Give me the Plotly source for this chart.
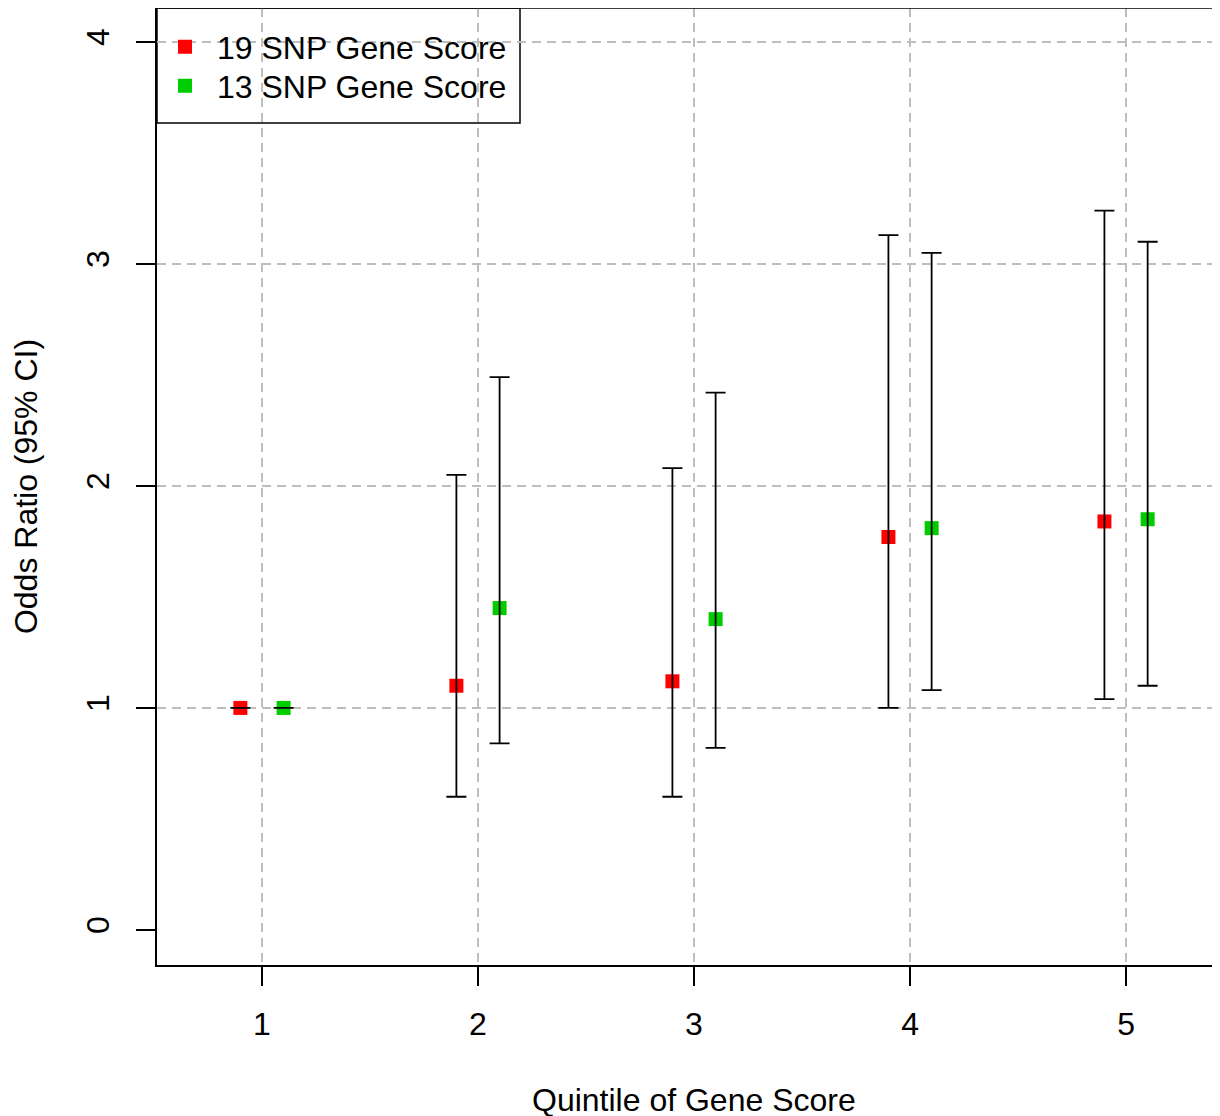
import plotly.graph_objects as go

quintiles = [1, 2, 3, 4, 5]
offset = 0.1

or19 = [1.00, 1.10, 1.12, 1.77, 1.84]
lo19 = [None, 0.60, 0.60, 1.00, 1.04]
hi19 = [None, 2.05, 2.08, 3.13, 3.24]

or13 = [1.00, 1.45, 1.40, 1.81, 1.85]
lo13 = [None, 0.84, 0.82, 1.08, 1.10]
hi13 = [None, 2.49, 2.42, 3.05, 3.10]

names = ["19 SNP Gene Score", "13 SNP Gene Score"]
colors = ["#FF0000", "#00CD00"]

FONT = "Liberation Sans, Arial, sans-serif"
FS = 32
LFS = 32

W, H = 1212, 1108
ML, MR, MT, MB = 149, 0, 0, 151
PW, PH = W - ML - MR, H - MT - MB

def err(vals, los, his):
    plus = [None if h is None else h - v for v, h in zip(vals, his)]
    minus = [None if l is None else v - l for v, l in zip(vals, los)]
    return plus, minus

fig = go.Figure()
series = [(or19, lo19, hi19, -offset), (or13, lo13, hi13, offset)]
for i, ((vals, los, his, off), name, col) in enumerate(zip(series, names, colors)):
    xs = [q + off for q in quintiles]
    fig.add_trace(go.Scatter(x=xs, y=vals, mode="markers", name=name,
                             legend="legend" if i == 0 else "legend2",
                             marker=dict(symbol="square", size=14, color=col, line=dict(width=0))))
for (vals, los, his, off) in series:
    xs = [q + off for q in quintiles]
    plus, minus = err(vals, los, his)
    fig.add_trace(go.Scatter(x=xs, y=vals, mode="markers", showlegend=False,
                             marker=dict(size=1, opacity=0),
                             error_y=dict(type="data", symmetric=False, array=plus, arrayminus=minus,
                                          color="black", thickness=1.8, width=10)))

# grid overlay axis (no grid line at 0)
fig.add_trace(go.Scatter(x=[None], y=[None], yaxis="y2", showlegend=False, hoverinfo="skip"))

grid_color = "#BEBEBE"
leg_common = dict(xanchor="left", yanchor="middle", xref="paper", yref="paper",
                  bgcolor="rgba(0,0,0,0)", borderwidth=0, itemwidth=54,
                  font=dict(family=FONT, size=LFS))
fig.update_layout(
    width=W, height=H,
    margin=dict(l=ML, r=MR, t=MT, b=MB),
    paper_bgcolor="white", plot_bgcolor="white",
    font=dict(family=FONT, size=FS, color="black"),
    showlegend=True,
    legend=dict(x=-4 / PW, y=1 - 39 / PH, **leg_common),
    legend2=dict(x=-4 / PW, y=1 - 78 / PH, **leg_common),
    xaxis=dict(range=[0.514, 5.435], tickvals=quintiles, ticktext=[str(q) for q in quintiles],
               showgrid=True, gridcolor=grid_color, griddash="9px,6px", gridwidth=1.5,
               zeroline=False, showline=True, linecolor="black", linewidth=1.5,
               ticks="outside", ticklen=19, tickwidth=1.5, tickcolor="black",
               ticklabelstandoff=11, tickfont=dict(size=FS)),
    yaxis=dict(range=[-0.158, 4.153], tickvals=[0, 1, 2, 3, 4],
               showgrid=False, zeroline=False, showline=True, linecolor="black", linewidth=1.5,
               ticks="outside", ticklen=19, tickwidth=1.5, tickcolor="black",
               tickangle=-90, ticklabelstandoff=14, tickfont=dict(size=FS),
               title=dict(text="Odds Ratio (95% CI)", font=dict(size=FS), standoff=36)),
    yaxis2=dict(range=[-0.158, 4.153], overlaying="y", tickvals=[1, 2, 3, 4],
                showgrid=True, gridcolor=grid_color, griddash="9px,6px", gridwidth=1.5,
                showticklabels=False, ticks="", zeroline=False, showline=False, layer="below traces"),
)

# x-axis title centred on quintile 3
fig.add_annotation(text="Quintile of Gene Score", x=3, xref="x", y=-135 / PH, yref="paper",
                   yanchor="middle", showarrow=False, font=dict(size=FS))

# top border
fig.add_shape(type="line", xref="paper", yref="paper", x0=0, x1=1, y0=1, y1=1,
              line=dict(color="black", width=1.5))
# legend box
fig.add_shape(type="rect", xref="paper", yref="paper", x0=0, x1=363 / PW, y0=1 - 115 / PH, y1=1,
              line=dict(color="black", width=1.5), fillcolor="white", layer="below")

fig.write_html("out.html")
